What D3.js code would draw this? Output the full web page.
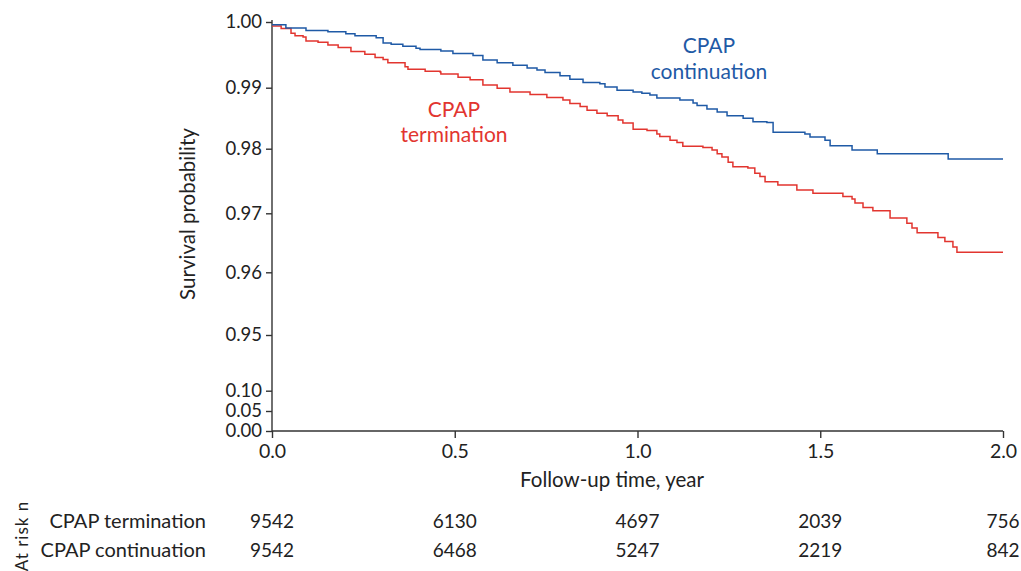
<!DOCTYPE html>
<html>
<head>
<meta charset="utf-8">
<script src="https://cdn.jsdelivr.net/npm/d3@7"></script>
<style>
  html, body { margin: 0; padding: 0; background: #fff; }
  svg { display: block; }
  text { font-family: Lato, "Noto Sans", sans-serif; fill: #222; }
</style>
</head>
<body>
<svg id="chart" width="1021" height="571"></svg>
<script>
// ---- data ----
const xTicks = [0, 0.5, 1.0, 1.5, 2.0];
const yTicks = [0, 0.05, 0.10, 0.95, 0.96, 0.97, 0.98, 0.99, 1.00];
const groups = ["CPAP termination", "CPAP continuation"];

const contTime = [0, 0.038, 0.093, 0.153, 0.202, 0.227, 0.285, 0.304, 0.326, 0.358, 0.394, 0.405, 0.462, 0.495, 0.550, 0.577, 0.616, 0.659, 0.698, 0.725, 0.747, 0.788, 0.815, 0.851, 0.897, 0.911, 0.944, 0.988, 1.012, 1.034, 1.053, 1.116, 1.152, 1.163, 1.190, 1.218, 1.245, 1.289, 1.316, 1.354, 1.371, 1.458, 1.472, 1.513, 1.527, 1.587, 1.656, 1.850, 2.0];
const contSurv = [0.9996, 0.9991, 0.9987, 0.9985, 0.9982, 0.9979, 0.9976, 0.9968, 0.9966, 0.9963, 0.9960, 0.9958, 0.9956, 0.9952, 0.9949, 0.9942, 0.9938, 0.9934, 0.9930, 0.9927, 0.9923, 0.9918, 0.9913, 0.9908, 0.9906, 0.9901, 0.9896, 0.9893, 0.9891, 0.9888, 0.9883, 0.9880, 0.9875, 0.9871, 0.9865, 0.9860, 0.9854, 0.9850, 0.9844, 0.9843, 0.9827, 0.9824, 0.9819, 0.9814, 0.9805, 0.9798, 0.9792, 0.9784, 0.9784];

const termTime = [0, 0.025, 0.052, 0.063, 0.085, 0.093, 0.126, 0.153, 0.181, 0.216, 0.254, 0.282, 0.304, 0.317, 0.364, 0.372, 0.419, 0.460, 0.462, 0.509, 0.542, 0.577, 0.616, 0.651, 0.706, 0.752, 0.796, 0.815, 0.843, 0.862, 0.889, 0.917, 0.947, 0.960, 0.988, 1.026, 1.053, 1.061, 1.089, 1.108, 1.124, 1.179, 1.204, 1.218, 1.231, 1.248, 1.261, 1.302, 1.321, 1.335, 1.349, 1.384, 1.436, 1.480, 1.562, 1.587, 1.595, 1.617, 1.644, 1.691, 1.737, 1.751, 1.765, 1.822, 1.841, 1.863, 1.874, 2.0];
const termSurv = [0.9994, 0.9990, 0.9983, 0.9979, 0.9977, 0.9971, 0.9969, 0.9965, 0.9961, 0.9955, 0.9951, 0.9946, 0.9943, 0.9938, 0.9932, 0.9928, 0.9925, 0.9924, 0.9921, 0.9916, 0.9912, 0.9904, 0.9899, 0.9893, 0.9889, 0.9884, 0.9880, 0.9874, 0.9869, 0.9863, 0.9858, 0.9854, 0.9847, 0.9842, 0.9832, 0.9830, 0.9824, 0.9820, 0.9814, 0.9810, 0.9804, 0.9802, 0.9798, 0.9792, 0.9787, 0.9779, 0.9772, 0.9770, 0.9762, 0.9757, 0.9749, 0.9744, 0.9736, 0.9731, 0.9726, 0.9722, 0.9716, 0.9709, 0.9704, 0.9692, 0.9683, 0.9675, 0.9667, 0.9659, 0.9652, 0.9643, 0.9634, 0.9634];

const atRiskTerm = [9542, 6130, 4697, 2039, 756];
const atRiskCont = [9542, 6468, 5247, 2219, 842];

// ---- layout ----
const blue = "#1f5aa6", red = "#e2352f", axisCol = "#333";
const svg = d3.select("#chart");
const x = d3.scaleLinear().domain([0, 2]).range([272, 1003]);
const y = d3.scaleLinear().domain(yTicks).range([431, 411, 390.7, 335, 272.3, 213.3, 148.7, 87.7, 22]);

// axes
const yAxis = d3.axisLeft(y).tickValues(yTicks).tickFormat(d3.format(".2f")).tickSize(6).tickPadding(4);
const gy = svg.append("g").attr("transform", "translate(272,0)").call(yAxis);
gy.select(".domain").attr("d", "M0,20V431");
const xAxis = d3.axisBottom(x).tickValues(xTicks).tickFormat(d3.format(".1f")).tickSize(7).tickPadding(6);
const gx = svg.append("g").attr("transform", "translate(0,431)").call(xAxis);
gx.select(".domain").attr("d", "M272,0H1003");
[gx, gy].forEach(g => {
  g.selectAll("path, line").attr("stroke", axisCol).attr("stroke-width", 1.4);
  g.selectAll("text").attr("fill", "#222").style("font-family", "Lato, 'Noto Sans', sans-serif");
});
gx.selectAll("text").attr("font-size", 19.5);
gy.selectAll("text").attr("font-size", 18.5);

// titles
svg.append("text").attr("x", 612).attr("y", 487).attr("text-anchor", "middle").attr("font-size", 20.5).text("Follow-up time, year");
svg.append("text").attr("transform", "translate(195,214) rotate(-90)").attr("text-anchor", "middle").attr("font-size", 20.5).text("Survival probability");

// curves
const line = d3.line().x(d => x(d[0])).y(d => y(d[1])).curve(d3.curveStepAfter);
const series = [
  { t: termTime, s: termSurv, color: red },
  { t: contTime, s: contSurv, color: blue }
];
series.forEach(se => {
  svg.append("path")
    .datum(se.t.map((t, i) => [t, se.s[i]]))
    .attr("fill", "none").attr("stroke", se.color).attr("stroke-width", 1.5)
    .attr("d", line);
});

// in-plot labels
const lab = (txt, cx, cy, color) => svg.append("text").attr("x", cx).attr("y", cy)
  .attr("text-anchor", "middle").attr("font-size", 21).style("fill", color).text(txt);
lab("CPAP", 709, 53, blue);
lab("continuation", 709, 79, blue);
lab("CPAP", 454, 117, red);
lab("termination", 454, 142, red);

// at risk table
svg.append("text").attr("transform", "translate(28,536) rotate(-90)").attr("text-anchor", "middle")
  .attr("font-size", 17).attr("letter-spacing", 1).text("At risk n");
const rows = [atRiskTerm, atRiskCont];
const rowY = [528, 557];
rows.forEach((vals, r) => {
  svg.append("text").attr("x", 206).attr("y", rowY[r]).attr("text-anchor", "end").attr("font-size", 20).text(groups[r]);
  svg.selectAll(null).data(vals).enter().append("text")
    .attr("x", (d, i) => x(xTicks[i])).attr("y", rowY[r])
    .attr("text-anchor", "middle").attr("font-size", 19).text(d => d);
});
</script>
</body>
</html>
